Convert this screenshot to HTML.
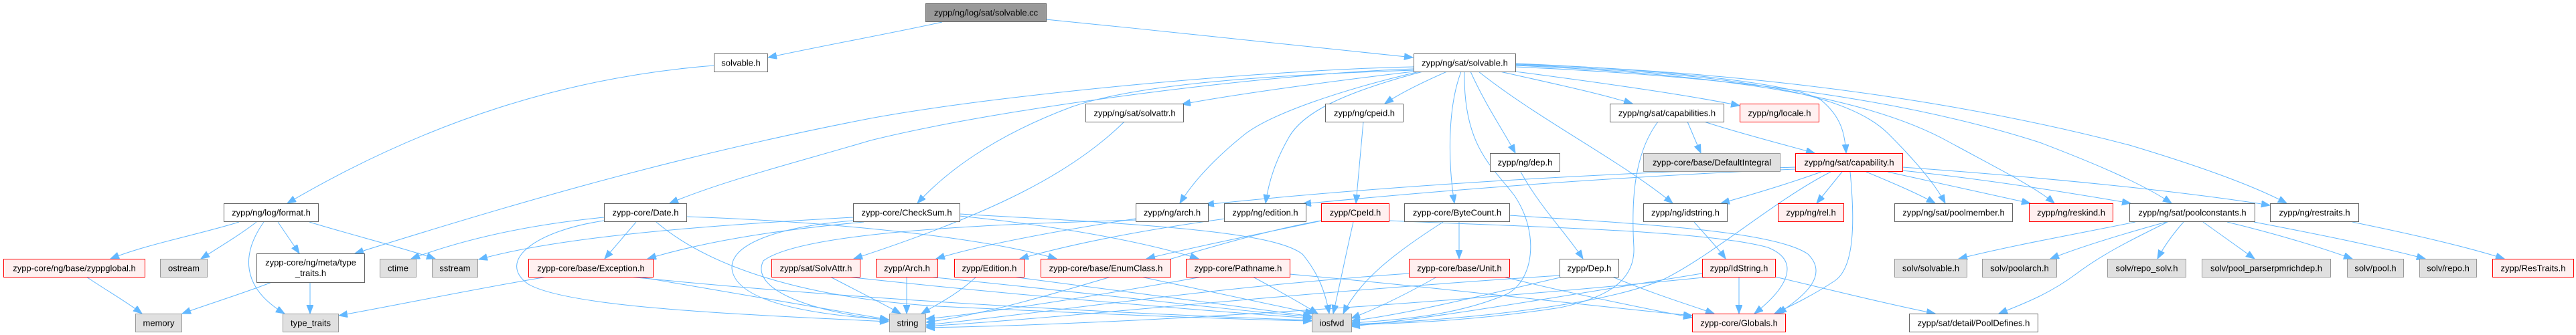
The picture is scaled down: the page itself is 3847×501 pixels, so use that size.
<!DOCTYPE html>
<html><head><meta charset="utf-8">
<style>
html,body{margin:0;padding:0;background:#fff;}
body{width:3847px;height:501px;overflow:hidden;}
svg{display:block;}
text{font-family:"Liberation Sans",Arial,Helvetica,sans-serif;font-size:13px;fill:#000;text-anchor:middle;}
.e{fill:none;stroke:#63b8ff;stroke-width:1;marker-end:url(#a);}
.w{fill:#fff;stroke:#666;stroke-width:1;}
.r{fill:#fff0f0;stroke:#ff0000;stroke-width:1;}
.g{fill:#e0e0e0;stroke:#999;stroke-width:1;}
.k{fill:#999;stroke:#666;stroke-width:1;}
</style></head>
<body>
<svg width="3847" height="501" viewBox="0 0 3847 501" xmlns="http://www.w3.org/2000/svg">
<defs>
<marker id="a" markerWidth="15" markerHeight="12" refX="13" refY="5" orient="auto" markerUnits="userSpaceOnUse">
<path d="M0,0 L13,5 L0,10 z" fill="#63b8ff" stroke="#63b8ff" stroke-width="1"/>
</marker>
</defs>
<g>
<!-- root -->
<path class="e" d="M1407,33 C1330,50 1230,68 1147,86"/>
<path class="e" d="M1562,29 C1750,48 1950,68 2110,86"/>
<!-- solvable.h -->
<path class="e" d="M1066,98 C850,115 640,180 429,304"/>
<!-- format.h -->
<path class="e" d="M357,332 C300,350 220,365 165,387"/>
<path class="e" d="M383,332 C360,350 330,368 300,387"/>
<path class="e" d="M394,332 C360,380 360,430 425,469"/>
<path class="e" d="M415,332 L447,379"/>
<path class="e" d="M462,332 C520,350 600,370 650,387"/>
<path class="e" d="M129,414 C160,435 190,452 212,469"/>
<path class="e" d="M406,422 C360,440 310,455 272,469"/>
<path class="e" d="M463,422 L463,469"/>
<path class="e" d="M817,414 C720,430 600,455 506,472"/>
<!-- sat/solvable.h left -->
<path class="e" d="M2111,100 C1900,104 1500,140 1300,177 C1000,235 750,310 530,379"/>
<path class="e" d="M2111,103 C1900,110 1500,160 1300,210 C1200,240 1080,270 1000,304"/>
<path class="e" d="M2111,105 C1900,112 1700,125 1600,160 C1480,205 1410,260 1370,304"/>
<path class="e" d="M2111,107 C2000,120 1850,140 1765,156"/>
<path class="e" d="M2120,107 C2000,135 1900,170 1860,200 C1810,240 1780,275 1762,304"/>
<path class="e" d="M2125,107 C2000,140 1945,170 1925,205 C1905,240 1895,270 1890,304"/>
<path class="e" d="M2161,107 C2120,125 2090,140 2068,155"/>
<path class="e" d="M2182,107 C2162,160 2162,240 2172,304"/>
<path class="e" d="M2187,107 C2185,220 2230,250 2262,293 C2300,350 2290,420 2250,440 C2180,470 2100,478 2018,483"/>
<path class="e" d="M2196,107 C2220,160 2245,195 2263,229"/>
<path class="e" d="M2208,107 C2300,180 2420,240 2498,304"/>
<path class="e" d="M2240,107 C2320,125 2390,140 2438,155"/>
<path class="e" d="M2263,107 C2400,125 2520,142 2598,158"/>
<!-- sat/solvable.h right -->
<path class="e" d="M2263,95 C2500,105 2680,125 2720,150 C2750,175 2755,200 2757,229"/>
<path class="e" d="M2263,97 C2600,110 2760,140 2820,200 C2860,240 2890,275 2905,304"/>
<path class="e" d="M2263,98 C2600,112 2800,150 2912,213 C2980,250 3040,280 3068,304"/>
<path class="e" d="M2263,100 C2600,115 2850,150 3046,213 C3130,245 3200,275 3243,304"/>
<path class="e" d="M2263,96 C2700,110 3000,170 3180,217 C3290,250 3370,280 3415,304"/>
<!-- level C -->
<path class="e" d="M1679,182 C1600,260 1480,320 1275,387"/>
<path class="e" d="M2036,182 C2032,230 2028,270 2025,304"/>
<path class="e" d="M2520,182 L2540,229"/>
<path class="e" d="M2545,182 C2600,200 2660,215 2710,229"/>
<path class="e" d="M2476,182 C2440,230 2436,300 2440,370 C2442,420 2400,445 2330,460 C2200,480 2100,483 2018,486"/>
<path class="e" d="M2271,257 C2300,310 2340,350 2364,387"/>
<!-- capability.h -->
<path class="e" d="M2751,257 L2713,304"/>
<path class="e" d="M2787,257 C2830,275 2865,290 2890,304"/>
<path class="e" d="M2819,257 C2900,275 2980,292 3032,304"/>
<path class="e" d="M2841,255 C2980,270 3100,290 3182,304"/>
<path class="e" d="M2841,250 C3050,265 3250,285 3390,307"/>
<path class="e" d="M2763,257 C2770,330 2770,400 2740,420 C2710,440 2680,455 2650,469"/>
<path class="e" d="M2720,257 C2670,275 2620,290 2570,304"/>
<path class="e" d="M2681,253 C2400,265 2150,285 1945,305"/>
<path class="e" d="M2681,250 C2300,262 2000,285 1800,306"/>
<path class="e" d="M2734,257 C2650,300 2560,380 2486,417 C2400,455 2200,478 2018,485"/>
<!-- CpeId.h -->
<path class="e" d="M1974,330 C1880,350 1780,370 1712,387"/>
<path class="e" d="M2021,332 C2010,380 2000,430 1991,469"/>
<path class="e" d="M1973,330 C1800,360 1550,460 1383,482"/>
<path class="e" d="M2074,330 C2300,340 2550,345 2640,370 C2690,390 2670,430 2620,469"/>
<!-- ByteCount.h -->
<path class="e" d="M2179,332 L2179,387"/>
<path class="e" d="M2155,332 C2080,380 2030,420 2006,469"/>
<path class="e" d="M2254,322 C2450,335 2650,345 2700,380 C2730,410 2700,440 2655,469"/>
<!-- Unit.h -->
<path class="e" d="M2146,414 C2100,440 2060,460 2018,476"/>
<path class="e" d="M2245,414 C2350,440 2450,460 2527,475"/>
<path class="e" d="M2104,409 C1800,430 1550,470 1383,486"/>
<!-- Dep.h -->
<path class="e" d="M2334,414 C2200,445 2100,470 2018,480"/>
<path class="e" d="M2408,414 C2470,440 2520,455 2560,469"/>
<path class="e" d="M2329,412 C1900,440 1600,475 1383,488"/>
<!-- IdString.h -->
<path class="e" d="M2597,414 L2597,469"/>
<path class="e" d="M2542,409 C2350,440 2150,475 2018,488"/>
<path class="e" d="M2553,414 C2200,450 1700,485 1383,490"/>
<path class="e" d="M2651,414 C2740,435 2820,455 2890,469"/>
<path class="e" d="M2530,332 C2550,355 2565,370 2577,387"/>
<!-- poolconstants.h -->
<path class="e" d="M3189,332 C3100,350 3000,368 2925,387"/>
<path class="e" d="M3235,332 C3170,350 3110,368 3062,387"/>
<path class="e" d="M3237,332 C3180,360 3140,380 3100,410 C3060,440 3020,455 2985,469"/>
<path class="e" d="M3261,332 C3245,350 3232,368 3222,387"/>
<path class="e" d="M3290,332 L3367,387"/>
<path class="e" d="M3326,332 C3400,350 3460,368 3513,387"/>
<path class="e" d="M3366,332 C3460,350 3550,368 3622,387"/>
<path class="e" d="M3513,332 C3600,350 3680,368 3740,387"/>
<!-- Date.h -->
<path class="e" d="M902,325 C800,335 700,355 614,387"/>
<path class="e" d="M950,332 L903,387"/>
<path class="e" d="M902,330 C800,345 740,390 789,425 C850,460 1100,470 1327,481"/>
<path class="e" d="M980,332 C1060,400 1200,445 1400,458 C1650,470 1850,478 1959,480"/>
<path class="e" d="M1025,324 C1200,330 1450,350 1578,387"/>
<!-- CheckSum.h -->
<path class="e" d="M1274,325 C1100,335 850,350 715,388"/>
<path class="e" d="M1290,332 C1150,345 1050,362 967,387"/>
<path class="e" d="M1274,330 C1150,340 1080,370 1095,410 C1110,450 1200,470 1327,478"/>
<path class="e" d="M1433,323 C1600,340 1720,365 1790,387"/>
<path class="e" d="M1433,320 C1700,335 1900,345 1945,380 C1970,410 1980,440 1985,469"/>
<!-- ng/arch, ng/edition -->
<path class="e" d="M1696,327 C1580,345 1470,365 1398,387"/>
<path class="e" d="M1830,327 C1700,345 1600,365 1523,387"/>
<path class="e" d="M1696,329 C1500,335 1200,345 1140,390 C1120,430 1200,465 1327,479"/>
<!-- row F to G -->
<path class="e" d="M955,414 C1100,440 1250,465 1327,478"/>
<path class="e" d="M940,414 C1300,450 1700,470 1959,479"/>
<path class="e" d="M1240,414 C1290,440 1320,455 1345,469"/>
<path class="e" d="M1265,414 C1500,440 1800,465 1959,476"/>
<path class="e" d="M1354,414 L1354,469"/>
<path class="e" d="M1387,414 C1600,435 1800,460 1959,474"/>
<path class="e" d="M1458,414 C1430,440 1400,455 1376,469"/>
<path class="e" d="M1513,414 C1700,440 1850,460 1959,473"/>
<path class="e" d="M1704,414 C1800,435 1900,455 1962,469"/>
<path class="e" d="M1795,414 C1650,440 1500,465 1383,477"/>
<path class="e" d="M1871,414 C1910,435 1945,455 1968,469"/>
<path class="e" d="M1926,410 C2150,430 2350,455 2527,472"/>
</g>
<g>
<!-- Row A -->
<rect class="k" x="1382.5" y="5.5" width="180" height="27"/><text x="1472.5" y="23.5">zypp/ng/log/sat/solvable.cc</text>
<!-- Row B -->
<rect class="w" x="1066.5" y="80.5" width="80" height="27"/><text x="1106.5" y="98.5">solvable.h</text>
<rect class="w" x="2111.5" y="80.5" width="152" height="27"/><text x="2187.5" y="98.5">zypp/ng/sat/solvable.h</text>
<!-- Row C -->
<rect class="w" x="1621.5" y="155.5" width="146" height="27"/><text x="1694.5" y="173.5">zypp/ng/sat/solvattr.h</text>
<rect class="w" x="1979.5" y="155.5" width="116" height="27"/><text x="2037.5" y="173.5">zypp/ng/cpeid.h</text>
<rect class="w" x="2404.5" y="155.5" width="170" height="27"/><text x="2489.5" y="173.5">zypp/ng/sat/capabilities.h</text>
<rect class="r" x="2598.5" y="155.5" width="118" height="27"/><text x="2657.5" y="173.5">zypp/ng/locale.h</text>
<!-- Row D -->
<rect class="w" x="2225.5" y="229.5" width="104" height="27"/><text x="2277.5" y="247.5">zypp/ng/dep.h</text>
<rect class="g" x="2454.5" y="229.5" width="204" height="27"/><text x="2556.5" y="247.5">zypp-core/base/DefaultIntegral</text>
<rect class="r" x="2681.5" y="229.5" width="160" height="27"/><text x="2761.5" y="247.5">zypp/ng/sat/capability.h</text>
<!-- Row E -->
<rect class="w" x="334.5" y="304.5" width="141" height="27"/><text x="405" y="322.5">zypp/ng/log/format.h</text>
<rect class="w" x="902.5" y="304.5" width="123" height="27"/><text x="964" y="322.5">zypp-core/Date.h</text>
<rect class="w" x="1274.5" y="304.5" width="159" height="27"/><text x="1354" y="322.5">zypp-core/CheckSum.h</text>
<rect class="w" x="1696.5" y="304.5" width="108" height="27"/><text x="1750.5" y="322.5">zypp/ng/arch.h</text>
<rect class="w" x="1828.5" y="304.5" width="122" height="27"/><text x="1889.5" y="322.5">zypp/ng/edition.h</text>
<rect class="r" x="1973.5" y="304.5" width="101" height="27"/><text x="2024" y="322.5">zypp/CpeId.h</text>
<rect class="w" x="2097.5" y="304.5" width="157" height="27"/><text x="2176" y="322.5">zypp-core/ByteCount.h</text>
<rect class="w" x="2454.5" y="304.5" width="125" height="27"/><text x="2517" y="322.5">zypp/ng/idstring.h</text>
<rect class="r" x="2655.5" y="304.5" width="98" height="27"/><text x="2704.5" y="322.5">zypp/ng/rel.h</text>
<rect class="w" x="2829.5" y="304.5" width="176" height="27"/><text x="2917.5" y="322.5">zypp/ng/sat/poolmember.h</text>
<rect class="r" x="3030.5" y="304.5" width="125" height="27"/><text x="3093" y="322.5">zypp/ng/reskind.h</text>
<rect class="w" x="3180.5" y="304.5" width="187" height="27"/><text x="3274" y="322.5">zypp/ng/sat/poolconstants.h</text>
<rect class="w" x="3390.5" y="304.5" width="132" height="27"/><text x="3456.5" y="322.5">zypp/ng/restraits.h</text>
<!-- Row F -->
<rect class="r" x="5.5" y="387.5" width="211" height="27"/><text x="111" y="405.5">zypp-core/ng/base/zyppglobal.h</text>
<rect class="g" x="239.5" y="387.5" width="70" height="27"/><text x="274.5" y="405.5">ostream</text>
<rect class="w" x="383.5" y="379.5" width="161" height="43"/><text x="464" y="397">zypp-core/ng/meta/type</text><text x="464" y="413">_traits.h</text>
<rect class="g" x="567.5" y="387.5" width="54" height="27"/><text x="594.5" y="405.5">ctime</text>
<rect class="g" x="645.5" y="387.5" width="68" height="27"/><text x="679.5" y="405.5">sstream</text>
<rect class="r" x="789.5" y="387.5" width="186" height="27"/><text x="882.5" y="405.5">zypp-core/base/Exception.h</text>
<rect class="r" x="1152.5" y="387.5" width="132" height="27"/><text x="1218.5" y="405.5">zypp/sat/SolvAttr.h</text>
<rect class="r" x="1308.5" y="387.5" width="92" height="27"/><text x="1354.5" y="405.5">zypp/Arch.h</text>
<rect class="r" x="1425.5" y="387.5" width="104" height="27"/><text x="1477.5" y="405.5">zypp/Edition.h</text>
<rect class="r" x="1554.5" y="387.5" width="194" height="27"/><text x="1651.5" y="405.5">zypp-core/base/EnumClass.h</text>
<rect class="r" x="1771.5" y="387.5" width="155" height="27"/><text x="1849" y="405.5">zypp-core/Pathname.h</text>
<rect class="r" x="2104.5" y="387.5" width="150" height="27"/><text x="2179.5" y="405.5">zypp-core/base/Unit.h</text>
<rect class="w" x="2329.5" y="387.5" width="88" height="27"/><text x="2373.5" y="405.5">zypp/Dep.h</text>
<rect class="r" x="2542.5" y="387.5" width="109" height="27"/><text x="2597" y="405.5">zypp/IdString.h</text>
<rect class="g" x="2829.5" y="387.5" width="108" height="27"/><text x="2883.5" y="405.5">solv/solvable.h</text>
<rect class="g" x="2960.5" y="387.5" width="111" height="27"/><text x="3016" y="405.5">solv/poolarch.h</text>
<rect class="g" x="3147.5" y="387.5" width="117" height="27"/><text x="3206" y="405.5">solv/repo_solv.h</text>
<rect class="g" x="3288.5" y="387.5" width="192" height="27"/><text x="3384.5" y="405.5">solv/pool_parserpmrichdep.h</text>
<rect class="g" x="3505.5" y="387.5" width="84" height="27"/><text x="3547.5" y="405.5">solv/pool.h</text>
<rect class="g" x="3613.5" y="387.5" width="85" height="27"/><text x="3656" y="405.5">solv/repo.h</text>
<rect class="r" x="3722.5" y="387.5" width="121" height="27"/><text x="3783" y="405.5">zypp/ResTraits.h</text>
<!-- Row G -->
<rect class="g" x="202.5" y="469.5" width="69" height="27"/><text x="237" y="487.5">memory</text>
<rect class="g" x="422.5" y="469.5" width="83" height="27"/><text x="464" y="487.5">type_traits</text>
<rect class="g" x="1328.5" y="469.5" width="54" height="27"/><text x="1355.5" y="487.5">string</text>
<rect class="g" x="1959.5" y="469.5" width="59" height="27"/><text x="1989" y="487.5">iosfwd</text>
<rect class="r" x="2527.5" y="469.5" width="139" height="27"/><text x="2597" y="487.5">zypp-core/Globals.h</text>
<rect class="w" x="2851.5" y="469.5" width="192" height="27"/><text x="2947.5" y="487.5">zypp/sat/detail/PoolDefines.h</text>
</g>
</svg>
</body></html>
